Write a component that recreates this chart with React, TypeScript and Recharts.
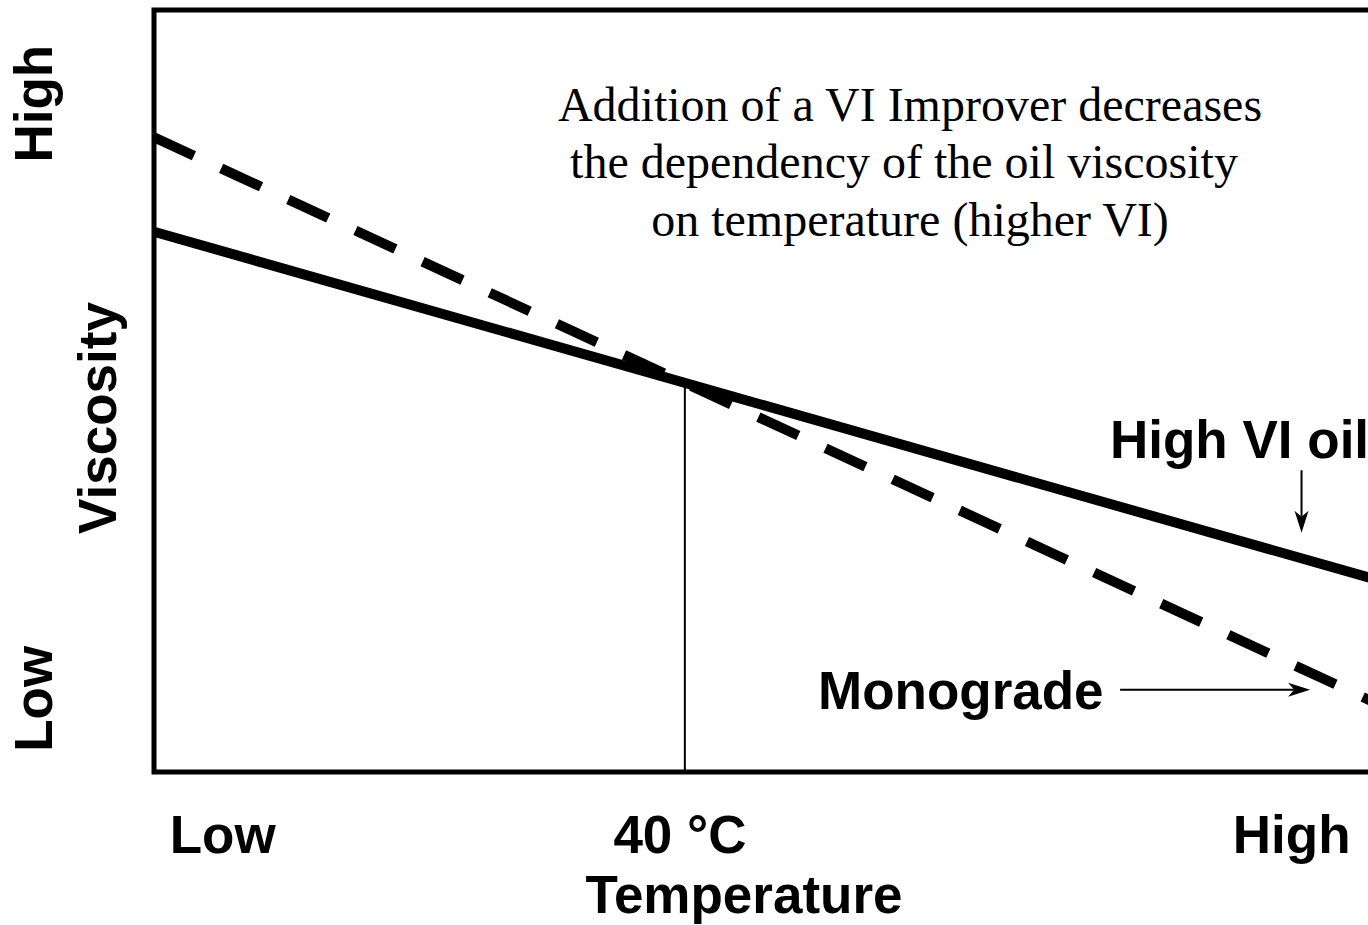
import { LineChart, Line, XAxis, YAxis, ReferenceLine, ReferenceArea } from "recharts";

// relative scale 0..100 on both axes (schematic chart, no units)
const temps = [0, 100];
const highViOil = [70.9, 25.1];
const monograde = [83.3, 8.8];

const xTickPos = [5.6, 42.9, 92.8];
const xTickLabels = ["Low", "40 °C", "High"];
const yTickPos = [87.7, 9.6];
const yTickLabels = ["High", "Low"];

const ref40 = 43.3;
const refTop = 51.0;

const noteLines = [
  "Addition of a VI Improver decreases",
  "the dependency of the oil viscosity",
  "on temperature (higher VI)",
];

const data = temps.map((t, i) => ({ t, highVi: highViOil[i], mono: monograde[i] }));

const SANS = "'Liberation Sans', Arial, sans-serif";
const SERIF = "'Liberation Serif', 'Times New Roman', serif";

function Arrow(props: any) {
  const { x1, y1, x2, y2 } = props;
  const dx = x2 - x1;
  const dy = y2 - y1;
  const len = Math.sqrt(dx * dx + dy * dy) || 1;
  const ux = dx / len;
  const uy = dy / len;
  const headLen = 22;
  const half = 7;
  const notch = 6;
  const bx = x2 - ux * headLen;
  const by = y2 - uy * headLen;
  const nx = x2 - ux * (headLen - notch);
  const ny = y2 - uy * (headLen - notch);
  const pts = [
    `${x2},${y2}`,
    `${bx - uy * half},${by + ux * half}`,
    `${nx},${ny}`,
    `${bx + uy * half},${by - ux * half}`,
  ].join(" ");
  return (
    <g>
      <line x1={x1} y1={y1} x2={nx} y2={ny} stroke="#000" strokeWidth={2} />
      <polygon points={pts} fill="#000" />
    </g>
  );
}

function XTick(props: any) {
  const { x, index } = props;
  return (
    <text x={x} y={853} textAnchor="middle" fontFamily={SANS} fontWeight="bold" fontSize={53} fill="#000">
      {xTickLabels[index]}
    </text>
  );
}

function YTick(props: any) {
  const { y, index } = props;
  return (
    <text
      x={52}
      y={y}
      transform={`rotate(-90, 52, ${y})`}
      textAnchor="middle"
      fontFamily={SANS}
      fontWeight="bold"
      fontSize={53}
      fill="#000"
    >
      {yTickLabels[index]}
    </text>
  );
}

export default function App() {
  return (
    <div
      style={{
        position: "absolute",
        left: 0,
        top: 0,
        width: 1368,
        height: 925,
        overflow: "hidden",
        background: "#fff",
      }}
    >
      <LineChart width={1380} height={925} data={data} margin={{ top: 10, right: 0, left: 0, bottom: 0 }}>
        <XAxis
          type="number"
          dataKey="t"
          domain={[0, 100]}
          ticks={xTickPos}
          interval={0}
          height={153}
          axisLine={false}
          tickLine={false}
          tick={<XTick />}
          label={{
            content: () => (
              <text x={744} y={913} textAnchor="middle" fontFamily={SANS} fontWeight="bold" fontSize={53} fill="#000">
                Temperature
              </text>
            ),
          }}
        />
        <YAxis
          type="number"
          domain={[0, 100]}
          ticks={yTickPos}
          interval={0}
          width={154}
          axisLine={false}
          tickLine={false}
          tick={<YTick />}
          label={{
            content: () => (
              <text
                x={116}
                y={418}
                transform="rotate(-90, 116, 418)"
                textAnchor="middle"
                fontFamily={SANS}
                fontWeight="bold"
                fontSize={53}
                fill="#000"
              >
                Viscosity
              </text>
            ),
          }}
        />
        <ReferenceArea x1={0} x2={100} y1={0} y2={100} fill="none" stroke="#000" strokeWidth={5} />
        <ReferenceLine
          segment={[
            { x: ref40, y: 0 },
            { x: ref40, y: refTop },
          ]}
          stroke="#000"
          strokeWidth={2}
        />
        <Line
          dataKey="mono"
          stroke="#000"
          strokeWidth={10}
          strokeDasharray="44 30"
          strokeLinecap="butt"
          dot={false}
          isAnimationActive={false}
        />
        <Line dataKey="highVi" stroke="#000" strokeWidth={10} strokeLinecap="butt" dot={false} isAnimationActive={false} />
        <ReferenceLine
          segment={[
            { x: 93.6, y: 39.6 },
            { x: 93.6, y: 31.4 },
          ]}
          shape={<Arrow />}
        />
        <ReferenceLine
          segment={[
            { x: 78.8, y: 10.8 },
            { x: 94.3, y: 10.8 },
          ]}
          shape={<Arrow />}
        />
      </LineChart>
      <svg width={1368} height={925} style={{ position: "absolute", left: 0, top: 0, pointerEvents: "none" }}>
        <text fontFamily={SERIF} fontSize={48} fill="#000" textAnchor="middle">
          <tspan x={910} y={121}>{noteLines[0]}</tspan>
          <tspan x={904} y={178}>{noteLines[1]}</tspan>
          <tspan x={910} y={236}>{noteLines[2]}</tspan>
        </text>
        <text x={1110} y={458} fontFamily={SANS} fontWeight="bold" fontSize={53} fill="#000">
          High VI oil
        </text>
        <text x={818} y={709} fontFamily={SANS} fontWeight="bold" fontSize={53} fill="#000">
          Monograde
        </text>
      </svg>
    </div>
  );
}
